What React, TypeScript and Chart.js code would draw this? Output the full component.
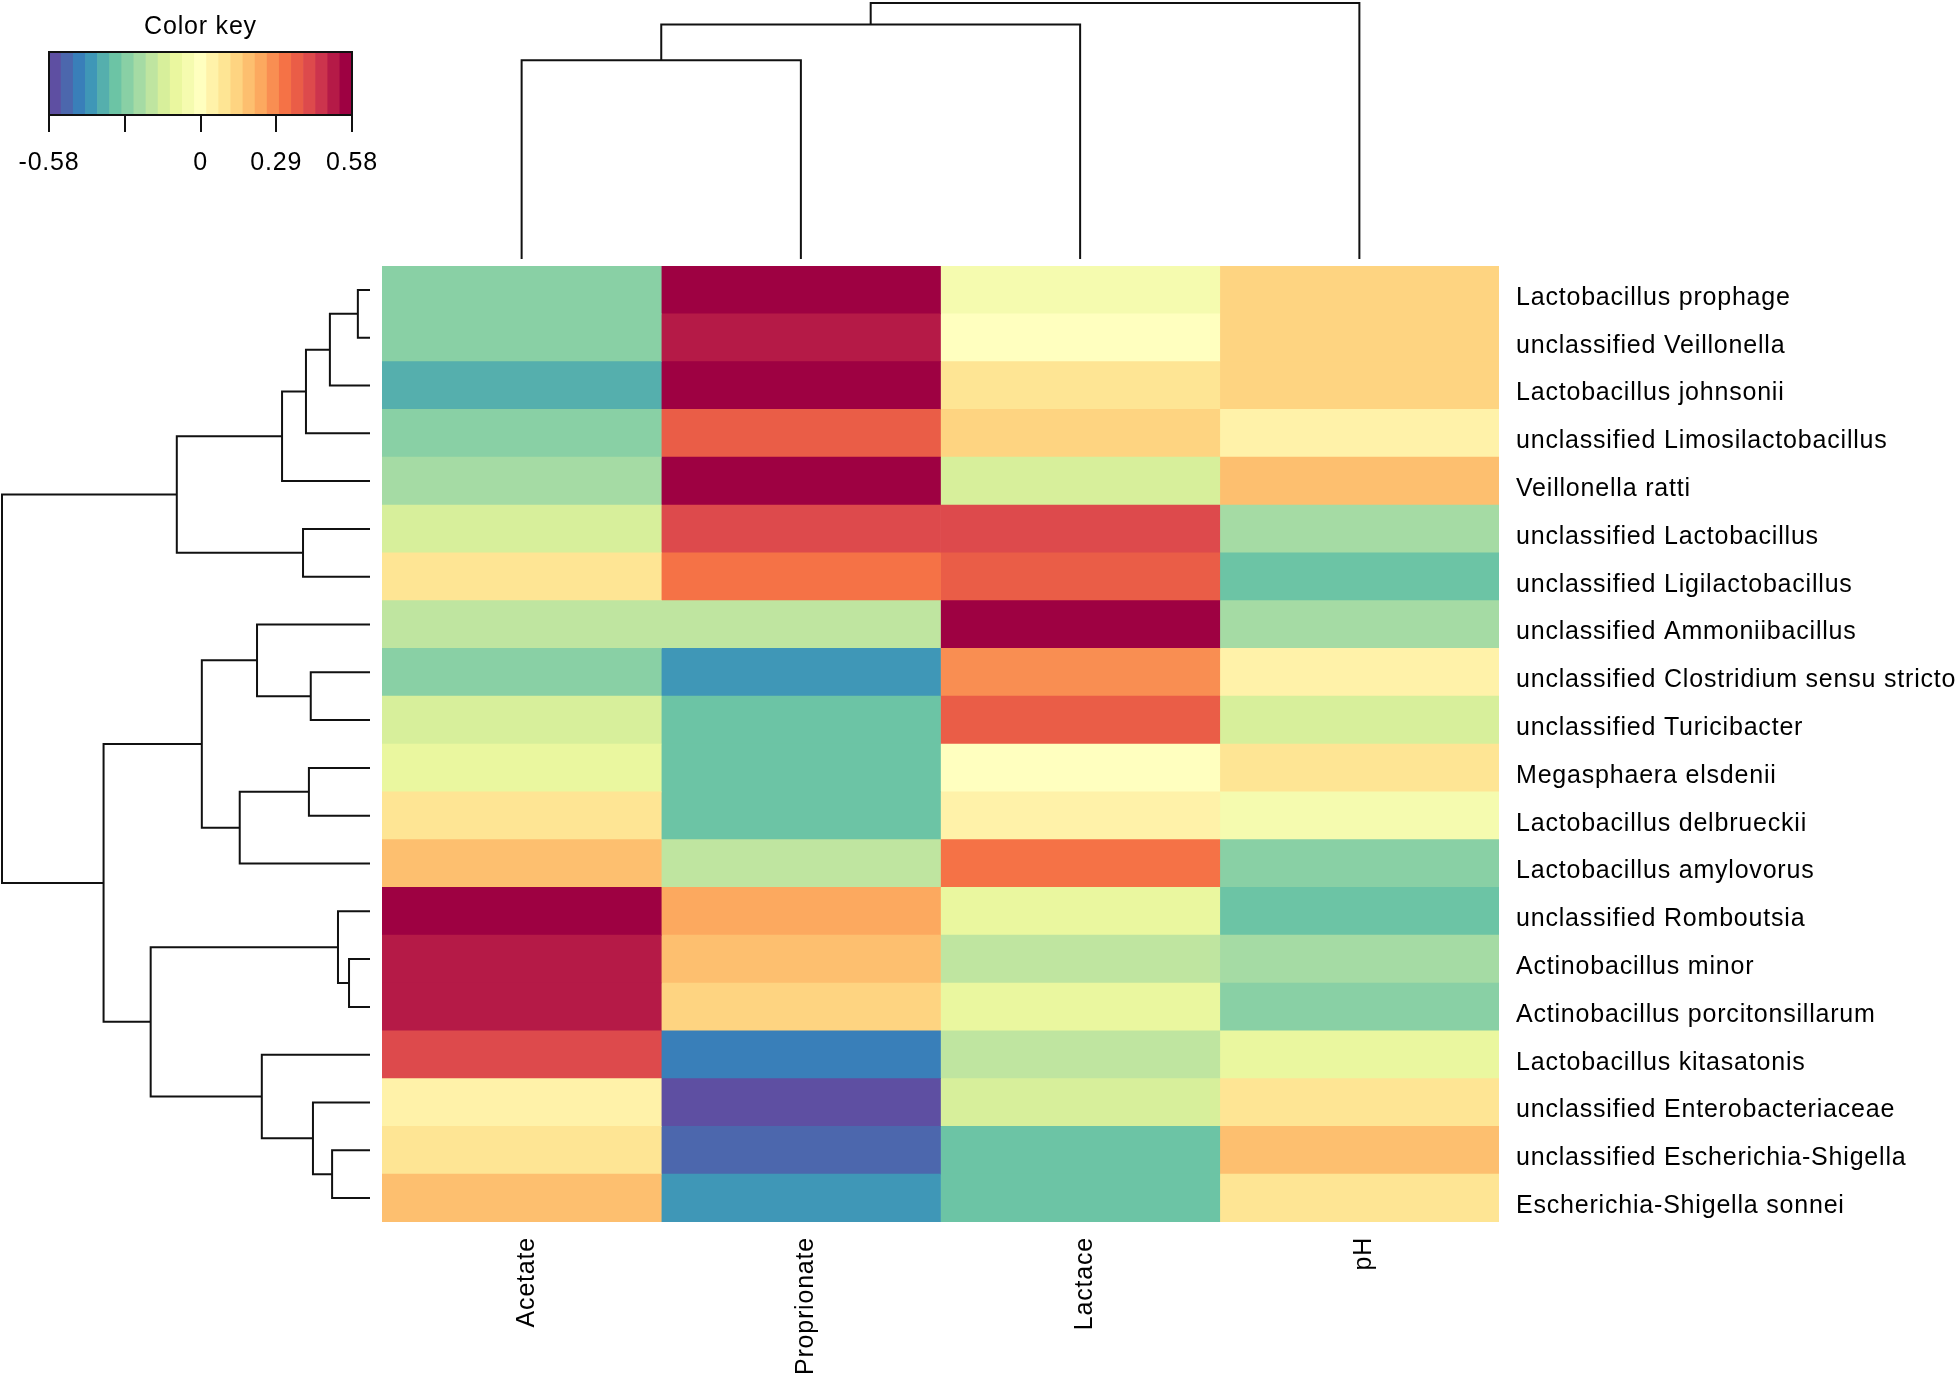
import { useEffect, useRef } from 'react';
import { Chart, registerables } from 'chart.js';

Chart.register(...registerables);

// ---------------- data ----------------
const rowLabels = [
  'Lactobacillus prophage',
  'unclassified Veillonella',
  'Lactobacillus johnsonii',
  'unclassified Limosilactobacillus',
  'Veillonella ratti',
  'unclassified Lactobacillus',
  'unclassified Ligilactobacillus',
  'unclassified Ammoniibacillus',
  'unclassified Clostridium sensu stricto',
  'unclassified Turicibacter',
  'Megasphaera elsdenii',
  'Lactobacillus delbrueckii',
  'Lactobacillus amylovorus',
  'unclassified Romboutsia',
  'Actinobacillus minor',
  'Actinobacillus porcitonsillarum',
  'Lactobacillus kitasatonis',
  'unclassified Enterobacteriaceae',
  'unclassified Escherichia-Shigella',
  'Escherichia-Shigella sonnei',
];

const columnLabels = ['Acetate', 'Proprionate', 'Lactace', 'pH'];

const acetate = [-0.28, -0.28, -0.37, -0.28, -0.23, -0.14, 0.09, -0.19, -0.28, -0.14, -0.09, 0.09, 0.19, 0.56, 0.51, 0.51, 0.42, 0.05, 0.09, 0.19];
const proprionate = [0.56, 0.51, 0.56, 0.37, 0.56, 0.42, 0.32, -0.19, -0.42, -0.32, -0.32, -0.32, -0.19, 0.23, 0.19, 0.14, -0.46, -0.56, -0.51, -0.42];
const lactace = [-0.05, 0.0, 0.09, 0.14, -0.14, 0.42, 0.37, 0.56, 0.28, 0.37, 0.0, 0.05, 0.32, -0.09, -0.19, -0.09, -0.19, -0.14, -0.32, -0.32];
const pH = [0.14, 0.14, 0.14, 0.05, 0.19, -0.23, -0.32, -0.23, 0.05, -0.14, 0.09, -0.05, -0.28, -0.32, -0.23, -0.28, -0.09, 0.09, 0.19, 0.09];

const keyMin = -0.58;
const keyMax = 0.58;
const keyBinCount = 25;
const keyTicks = [-0.58, -0.29, 0, 0.29, 0.58];
const keyTickLabels = ['-0.58', '', '0', '0.29', '0.58'];

// hclust-style merge tables (negative = leaf in display order, positive = earlier merge)
const rowMerge = [
  [-1, -2], [-15, -16], [-14, 2], [-19, -20], [1, -3], [-18, 4], [-9, -10], [-11, -12],
  [5, -4], [-6, -7], [9, -5], [-17, 6], [-8, 7], [8, -13], [13, 14], [11, 10], [3, 12],
  [15, 17], [16, 18],
];
const rowHeights = [0.033, 0.057, 0.087, 0.103, 0.109, 0.155, 0.161, 0.166, 0.174, 0.182, 0.239, 0.294, 0.307, 0.354, 0.457, 0.525, 0.596, 0.724, 1.0];

const colMerge = [[-1, -2], [1, -3], [2, -4]];
const colHeights = [0.776, 0.916, 1.0];

// ---------------- helpers ----------------
const FONT = "'Liberation Sans', Arial, sans-serif";
const SPECTRAL = ['#5E4FA2', '#3288BD', '#66C2A5', '#ABDDA4', '#E6F598', '#FFFFBF', '#FEE08B', '#FDAE61', '#F46D43', '#D53E4F', '#9E0142'];

function hexToRgb(h: string) {
  return [parseInt(h.slice(1, 3), 16), parseInt(h.slice(3, 5), 16), parseInt(h.slice(5, 7), 16)];
}

function rampPalette(cols: string[], n: number) {
  const rgb = cols.map(hexToRgb);
  const out: string[] = [];
  for (let k = 0; k < n; k++) {
    const t = (k * (cols.length - 1)) / (n - 1);
    const i = Math.min(Math.floor(t), cols.length - 2);
    const f = t - i;
    const c = rgb[i].map((v, j) => Math.round(v + f * (rgb[i + 1][j] - v)));
    out.push(`rgb(${c[0]},${c[1]},${c[2]})`);
  }
  return out;
}

const palette = rampPalette(SPECTRAL, keyBinCount);

function colorFor(v: number) {
  const w = (keyMax - keyMin) / keyBinCount;
  let k = Math.floor((v - keyMin) / w);
  if (k < 0) k = 0;
  if (k > keyBinCount - 1) k = keyBinCount - 1;
  return palette[k];
}

type Pt = { p: number; h: number };
function dendroSegments(merge: number[][], heights: number[]) {
  const pos: number[] = [];
  const segs: Pt[][] = [];
  const info = (id: number): Pt => (id < 0 ? { p: -id - 0.5, h: 0 } : { p: pos[id - 1], h: heights[id - 1] });
  merge.forEach(([a, b], k) => {
    const A = info(a);
    const B = info(b);
    const h = heights[k];
    pos[k] = (A.p + B.p) / 2;
    segs.push([
      { p: A.p, h: A.h },
      { p: A.p, h },
      { p: B.p, h },
      { p: B.p, h: B.h },
    ]);
  });
  return segs;
}

const spacingPlugin = {
  id: 'letterSpacing',
  beforeUpdate(c: any) { c.ctx.letterSpacing = '0.8px'; },
  beforeLayout(c: any) { c.ctx.letterSpacing = '0.8px'; },
  beforeDraw(c: any) { c.ctx.letterSpacing = '0.8px'; },
};

const boxPlugin = {
  id: 'keyBox',
  afterDatasetsDraw(c: any) {
    const { left, top, width, height } = c.chartArea;
    const ctx = c.ctx;
    ctx.save();
    ctx.strokeStyle = '#111';
    ctx.lineWidth = 2;
    ctx.strokeRect(left, top, width, height);
    ctx.restore();
  },
};

const W = 1959;
const H = 1374;
const HEAT = { left: 382, right: 1499, top: 266, bottom: 1222 };

export default function App() {
  const heatRef = useRef<HTMLCanvasElement>(null);
  const rowRef = useRef<HTMLCanvasElement>(null);
  const colRef = useRef<HTMLCanvasElement>(null);
  const keyRef = useRef<HTMLCanvasElement>(null);

  useEffect(() => {
    const columns = [acetate, proprionate, lactace, pH];
    const labelFont = { family: FONT, size: 25, weight: 'normal' as const };

    const heat = new Chart(heatRef.current!, {
      type: 'bar',
      data: {
        labels: rowLabels,
        datasets: columns.map((vals, j) => ({
          label: columnLabels[j],
          data: vals.map(() => 1),
          backgroundColor: vals.map(colorFor),
          borderWidth: 0,
          barPercentage: 1,
          categoryPercentage: 1,
        })),
      },
      options: {
        indexAxis: 'y',
        responsive: false,
        animation: false,
        devicePixelRatio: 1,
        events: [],
        layout: { padding: { left: HEAT.left, top: HEAT.top, right: 0, bottom: 0 } },
        plugins: { legend: { display: false }, tooltip: { enabled: false } },
        scales: {
          x: { type: 'linear', stacked: true, min: 0, max: columnLabels.length, display: false },
          y: {
            type: 'category',
            position: 'right',
            stacked: true,
            grid: { display: false },
            border: { display: false },
            afterFit: (s: any) => { s.width = W - HEAT.right; },
            ticks: { font: labelFont, color: '#000', padding: 9, autoSkip: false, labelOffset: 8 },
          },
          xl: {
            type: 'category',
            labels: columnLabels,
            position: 'bottom',
            offset: true,
            grid: { display: false },
            border: { display: false },
            afterFit: (s: any) => { s.height = H - HEAT.bottom; },
            ticks: { font: labelFont, color: '#000', padding: 7, autoSkip: false, minRotation: 90, maxRotation: 90, labelOffset: 5 },
          },
        } as any,
      },
      plugins: [spacingPlugin],
    });

    const rowSegs = dendroSegments(rowMerge, rowHeights);
    const rowDend = new Chart(rowRef.current!, {
      type: 'scatter',
      data: {
        datasets: rowSegs.map((seg) => ({
          data: seg.map((q) => ({ x: q.h, y: q.p })),
          showLine: true,
          pointRadius: 0,
          borderColor: '#111',
          borderWidth: 2,
          clip: false as any,
        })),
      },
      options: {
        responsive: false,
        animation: false,
        devicePixelRatio: 1,
        events: [],
        layout: { padding: { left: 2, right: W - 370, top: HEAT.top, bottom: H - HEAT.bottom } },
        plugins: { legend: { display: false }, tooltip: { enabled: false } },
        scales: {
          x: { type: 'linear', min: 0, max: 1, reverse: true, display: false },
          y: { type: 'linear', min: 0, max: rowLabels.length, reverse: true, display: false },
        },
      },
    });

    const colSegs = dendroSegments(colMerge, colHeights);
    const colDend = new Chart(colRef.current!, {
      type: 'scatter',
      data: {
        datasets: colSegs.map((seg) => ({
          data: seg.map((q) => ({ x: q.p, y: q.h })),
          showLine: true,
          pointRadius: 0,
          borderColor: '#111',
          borderWidth: 2,
          clip: false as any,
        })),
      },
      options: {
        responsive: false,
        animation: false,
        devicePixelRatio: 1,
        events: [],
        layout: { padding: { left: HEAT.left, right: W - HEAT.right, top: 3, bottom: H - 259 } },
        plugins: { legend: { display: false }, tooltip: { enabled: false } },
        scales: {
          x: { type: 'linear', min: 0, max: columnLabels.length, display: false },
          y: { type: 'linear', min: 0, max: 1, display: false },
        },
      },
    });

    const binW = (keyMax - keyMin) / keyBinCount;
    const binCenters = palette.map((_, k) => (keyMin + (k + 0.5) * binW).toFixed(3));
    const key = new Chart(keyRef.current!, {
      type: 'bar',
      data: {
        labels: binCenters,
        datasets: [{
          data: binCenters.map(() => 1),
          backgroundColor: palette,
          borderWidth: 0,
          barPercentage: 1,
          categoryPercentage: 1,
        }],
      },
      options: {
        responsive: false,
        animation: false,
        devicePixelRatio: 1,
        events: [],
        layout: { padding: { left: 49, right: 48, top: 0, bottom: 0 } },
        plugins: {
          legend: { display: false },
          tooltip: { enabled: false },
          title: { display: true, text: 'Color key', font: labelFont, color: '#000', padding: { top: 12, bottom: 10 } },
        },
        scales: {
          x: { type: 'category', display: false, offset: true },
          y: { type: 'linear', min: 0, max: 1, display: false },
          xt: {
            type: 'linear',
            position: 'bottom',
            min: keyMin,
            max: keyMax,
            offset: false,
            afterBuildTicks: (s: any) => { s.ticks = keyTicks.map((v) => ({ value: v })); },
            afterFit: (s: any) => { s.height = 75; },
            grid: { offset: false, drawOnChartArea: false, drawTicks: true, tickLength: 17, color: '#111', lineWidth: 2 },
            border: { display: true, color: '#111', width: 2 },
            ticks: {
              font: labelFont,
              color: '#000',
              padding: 16,
              autoSkip: false,
              maxRotation: 0,
              callback: (_v: any, i: number) => keyTickLabels[i],
            },
          },
        } as any,
      },
      plugins: [spacingPlugin, boxPlugin],
    });

    return () => {
      heat.destroy();
      rowDend.destroy();
      colDend.destroy();
      key.destroy();
    };
  }, []);

  const cs: any = { position: 'absolute', left: 0, top: 0, display: 'block' };
  return (
    <div style={{ position: 'absolute', left: 0, top: 0, width: W, height: H, overflow: 'hidden', background: '#fff' }}>
      <canvas ref={heatRef} width={W} height={H} style={{ ...cs, width: W, height: H }} />
      <canvas ref={rowRef} width={W} height={H} style={{ ...cs, width: W, height: H }} />
      <canvas ref={colRef} width={W} height={H} style={{ ...cs, width: W, height: H }} />
      <canvas ref={keyRef} width={400} height={190} style={{ ...cs, width: 400, height: 190 }} />
    </div>
  );
}
